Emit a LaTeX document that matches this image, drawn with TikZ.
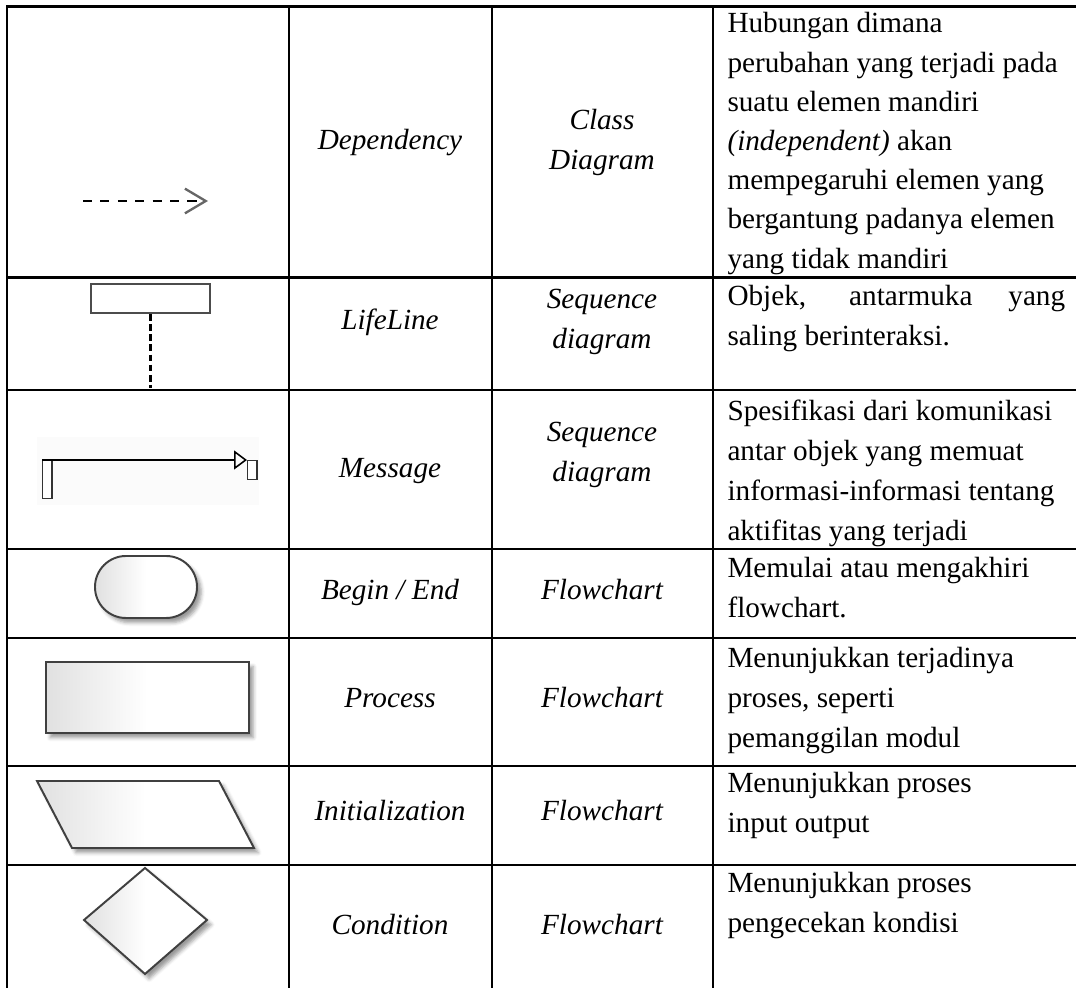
\documentclass[tikz,border=0pt]{standalone}
\usepackage{fontspec}
\setmainfont{Liberation Serif}
\usetikzlibrary{arrows.meta,shadows.blur}

\begin{document}
\begin{tikzpicture}[x=0.385pt,y=-0.385pt,
  tabline/.style={line width=1.15pt},
  term/.style={font=\fontsize{11.25}{15.4}\selectfont\itshape, text height=7.9pt, text depth=2.4pt, inner sep=0pt},
  kind/.style={font=\fontsize{11.25}{15.4}\selectfont\itshape, align=center, inner sep=0pt},
  desc/.style={font=\fontsize{11.25}{15.4}\selectfont, anchor=north west, align=left, inner sep=0pt},
  shape3d/.style={draw=black!75, line width=0.75pt, left color=black!12, right color=white, middle color=white,
    blur shadow={shadow xshift=1.6pt, shadow yshift=-1.8pt, shadow blur radius=1.4pt, shadow opacity=40}},
  activation/.style={draw=black!80, line width=0.55pt, fill=white, inner sep=0pt, minimum width=3.5pt}]
\useasboundingbox (0,0) rectangle (1076,988);
\clip (0,0) rectangle (1076,988);

% table grid
\draw[tabline] (7,1000) -- (7,7) -- (1090,7);
\foreach \y in {278,390,549,638,766,865} \draw[tabline] (7,\y) -- (1090,\y);
\foreach \x in {289,492,713} \draw[tabline] (\x,7) -- (\x,1000);

% symbols
\coordinate (deptail) at (83,201);
\coordinate (dephead) at (208,201);
\draw[line width=0.85pt, dash pattern=on 3.5pt off 3.2pt,
  -{Straight Barb[length=8pt,width=9.5pt,line width=0.9pt,color=black!60]}] (deptail) -- (dephead);

\node[draw=black!70, line width=0.8pt, minimum width=45.8pt, minimum height=11.2pt, inner sep=0pt] (lifebox) at (150.5,298.5) {};
\coordinate (lifeend) at (150.5,388);
\draw[line width=1pt, dash pattern=on 2.6pt off 1.3pt] (lifebox.south) -- (lifeend);

\fill[black!1.5] (37,437) rectangle (259,505);
\node[activation, minimum height=14.6pt, anchor=north west] (msgsrc) at (42,460) {};
\node[activation, minimum height=7.3pt, anchor=north west] (msgdst) at (247,460) {};
\draw[line width=0.6pt, -{Triangle[open,length=5pt,width=7.3pt]}] (msgsrc.north west) -- (msgdst.north west);

\draw[shape3d, rounded corners=11.9pt] (95,556) rectangle (197,618);
\draw[shape3d] (46,662) rectangle (249,733);
\draw[shape3d] (37,781) -- (219,781) -- (254,848) -- (72,848) -- cycle;
\draw[shape3d] (145,868) -- (207,920) -- (145,974) -- (84,920) -- cycle;

% names, diagrams, descriptions
\node[term] (depname) at (390,142) {Dependency};
\node[kind] (depkind) at (602,142) {Class\\Diagram};
\node[desc, font=\fontsize{11.25}{15.1}\selectfont] (depdesc) at (727,12) {Hubungan dimana\\perubahan yang terjadi pada\\suatu elemen mandiri\\\textit{(independent)} akan\\mempegaruhi elemen yang\\bergantung padanya elemen\\yang tidak mandiri};

\node[term] (lifename) at (390,322) {LifeLine};
\node[kind] (lifekind) at (602,322) {Sequence\\diagram};
\node[desc] (lifedesc) at (727,285) {\makebox[130pt][s]{Objek, antarmuka yang}\\saling berinteraksi.};

\node[term] (msgname) at (390,470) {Message};
\node[kind] (msgkind) at (602,455) {Sequence\\diagram};
\node[desc] (msgdesc) at (727,399) {Spesifikasi dari komunikasi\\antar objek yang memuat\\informasi-informasi tentang\\aktifitas yang terjadi};

\node[term] (begname) at (390,592) {Begin / End};
\node[term] (begkind) at (602,592) {Flowchart};
\node[desc] (begdesc) at (727,557) {Memulai atau mengakhiri\\flowchart.};

\node[term] (procname) at (390,700) {Process};
\node[term] (prockind) at (602,700) {Flowchart};
\node[desc] (procdesc) at (727,647) {Menunjukkan terjadinya\\proses, seperti\\pemanggilan modul};

\node[term] (initname) at (390,813) {Initialization};
\node[term] (initkind) at (602,813) {Flowchart};
\node[desc] (initdesc) at (727,772) {Menunjukkan proses\\input output};

\node[term] (condname) at (390,927) {Condition};
\node[term] (condkind) at (602,927) {Flowchart};
\node[desc] (conddesc) at (727,872) {Menunjukkan proses\\pengecekan kondisi};
\end{tikzpicture}
\end{document}
